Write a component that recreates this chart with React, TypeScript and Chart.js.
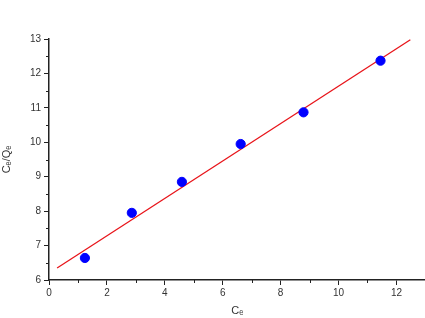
import React, { useEffect, useRef } from "react";
import { Chart, registerables } from "chart.js";

Chart.register(...registerables);

const ceValues = [1.24, 2.86, 4.59, 6.62, 8.79, 11.45];
const ceQeValues = [6.64, 7.95, 8.85, 9.95, 10.87, 12.37];
const fitX = [0.28, 12.48];
const fitY = [6.35, 12.98];

const minorTicks = {
  id: "minorTicks",
  afterDraw(chart: any) {
    const ctx = chart.ctx;
    const x = chart.scales.x;
    const y = chart.scales.y;
    ctx.save();
    ctx.strokeStyle = "#222";
    ctx.lineWidth = 1;
    for (let v = 1; v <= 13; v += 2) {
      const px = Math.round(x.getPixelForValue(v)) + 0.5;
      ctx.beginPath();
      ctx.moveTo(px, y.bottom);
      ctx.lineTo(px, y.bottom + 3);
      ctx.stroke();
    }
    for (let v = 6.5; v < 13; v += 1) {
      const py = Math.round(y.getPixelForValue(v)) + 0.5;
      ctx.beginPath();
      ctx.moveTo(x.left, py);
      ctx.lineTo(x.left - 3, py);
      ctx.stroke();
    }
    ctx.restore();
  },
};

export default function App() {
  const ref = useRef<HTMLCanvasElement>(null);
  useEffect(() => {
    document.body.style.margin = "0";
    document.body.style.overflow = "hidden";
    document.documentElement.style.overflow = "hidden";
    const chart = new Chart(ref.current!, {
      type: "scatter",
      data: {
        datasets: [
          {
            label: "data",
            data: ceValues.map((v, i) => ({ x: v, y: ceQeValues[i] })),
            backgroundColor: "#0000ff",
            borderColor: "#0000ff",
            pointRadius: 4.6,
            pointHoverRadius: 4.6,
          },
          {
            label: "fit",
            type: "line",
            data: fitX.map((v, i) => ({ x: v, y: fitY[i] })),
            borderColor: "#e8141a",
            borderWidth: 1.3,
            pointRadius: 0,
            showLine: true,
            fill: false,
          } as any,
        ],
      },
      options: {
        animation: false,
        responsive: false,
        maintainAspectRatio: false,
        layout: { padding: { top: 39, right: 0, left: 0, bottom: 0 } },
        plugins: { legend: { display: false }, tooltip: { enabled: false } },
        scales: {
          x: {
            type: "linear",
            min: 0,
            max: 13,
            border: { color: "#222", width: 1.5 },
            grid: { drawOnChartArea: false, tickLength: 5, color: "#222", tickColor: "#222" },
            ticks: {
              stepSize: 2,
              autoSkip: false,
              maxRotation: 0,
              color: "#333",
              padding: 2,
              font: { family: "Liberation Sans, Arial", size: 10 },
              callback: (v: any) => (Number(v) % 2 === 0 && Number(v) <= 12 ? String(v) : ""),
            },
            title: {
              display: true,
              text: "Cₑ",
              color: "#333",
              font: { family: "Liberation Sans, Arial", size: 11 },
              padding: { top: 4, bottom: 0 },
            },
            afterFit: (s: any) => {
              s.height = 38;
            },
          },
          y: {
            type: "linear",
            min: 6,
            max: 13,
            border: { color: "#222", width: 1.5 },
            grid: { drawOnChartArea: false, tickLength: 5, color: "#222", tickColor: "#222" },
            ticks: {
              stepSize: 1,
              color: "#333",
              padding: 3,
              font: { family: "Liberation Sans, Arial", size: 10 },
            },
            title: {
              display: true,
              text: "Cₑ/Qₑ",
              color: "#333",
              font: { family: "Liberation Sans, Arial", size: 11 },
              padding: { top: 0, bottom: 8 },
            },
            afterFit: (s: any) => {
              s.width = 49;
            },
          },
        },
      },
      plugins: [minorTicks],
    });
    return () => chart.destroy();
  }, []);
  return <canvas ref={ref} width={431} height={318} style={{ display: "block" }} />;
}
